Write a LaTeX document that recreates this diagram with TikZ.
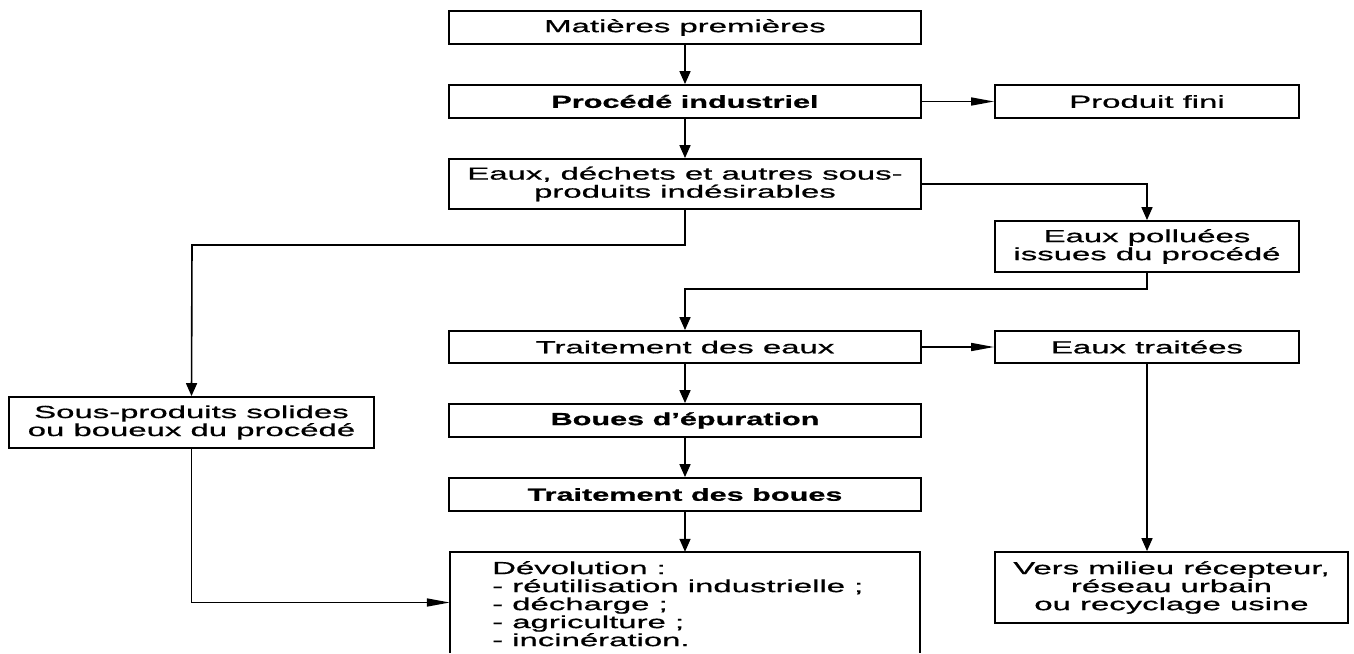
\documentclass[tikz,border=0pt]{standalone}
\usepackage{fontspec}
\setmainfont{Liberation Sans}[FakeStretch=1.88, FakeBold=0.8]
\newfontfamily\stretchbold{Liberation Sans}[FakeStretch=1.75, FakeBold=0.8]
\usetikzlibrary{arrows.meta}
\begin{document}
\begin{tikzpicture}[x=1pt,y=-1pt,
  box/.style={draw, line width=1.8pt, inner sep=0pt, align=center,
    font=\fontsize{17.5}{18}\selectfont},
  boldbox/.style={box, font=\fontsize{17.5}{18}\selectfont\stretchbold\bfseries},
  conn/.style={line width=1.6pt},
  varrow/.style={conn, -{Triangle[length=13pt,width=11pt]}},
  harrow/.style={conn, -{Triangle[length=23pt,width=8pt]}}]
\useasboundingbox (0,0) rectangle (1354,653);

\node[box, minimum width=472pt, minimum height=33pt] (mp) at (685,27.5) {Matières premières};
\node[boldbox, minimum width=472pt, minimum height=33pt] (pi) at (685,101.5) {Procédé industriel};
\node[box, minimum width=304pt, minimum height=33pt] (pf) at (1147,101.5) {Produit fini};
\node[box, minimum width=472pt, minimum height=50pt] (ed) at (685,184) {Eaux, déchets et autres sous-\\produits indésirables};
\node[box, minimum width=304pt, minimum height=51pt] (ep) at (1147,246.5) {Eaux polluées\\issues du procédé};
\node[box, minimum width=472pt, minimum height=32pt] (te) at (685,347) {Traitement des eaux};
\node[box, minimum width=304pt, minimum height=32pt] (et) at (1147,347) {Eaux traitées};
\node[box, minimum width=365pt, minimum height=51pt] (sp) at (191.5,422.5) {Sous-produits solides\\ou boueux du procédé};
\node[boldbox, minimum width=472pt, minimum height=33pt] (be) at (685,420.5) {Boues d’épuration};
\node[boldbox, minimum width=472pt, minimum height=33pt] (tb) at (685,494.5) {Traitement des boues};
\node[box, minimum width=353pt, minimum height=71pt] (vm) at (1171.5,587.5) {Vers milieu récepteur,\\réseau urbain\\ou recyclage usine};
\node[inner sep=0pt, minimum width=470pt, minimum height=101pt] (dv) at (685,602.5) {};
\draw[line width=1.8pt] (dv.south west) |- (dv.north east) -- (dv.south east);
\node[anchor=north west, inner sep=0pt, align=left, font=\fontsize{17.5}{18}\selectfont] (dvt) at (492,561) {Dévolution :\\- réutilisation industrielle ;\\- décharge ;\\- agriculture ;\\- incinération.};

\coordinate (j1) at (192,245);
\coordinate (j2) at (685,289);

\draw[varrow] (mp.south) -- (pi.north);
\draw[harrow] (pi.east) -- (pf.west);
\draw[varrow] (pi.south) -- (ed.north);
\draw[varrow] (ed.east) -| (ep.north);
\draw[varrow] (ed.south) |- (j1) -- (sp.north);
\draw[varrow] (ep.south) |- (j2) -- (te.north);
\draw[harrow] (te.east) -- (et.west);
\draw[varrow] (te.south) -- (be.north);
\draw[varrow] (be.south) -- (tb.north);
\draw[varrow] (tb.south) -- (dv.north);
\draw[varrow] (et.south) -- (et.south |- vm.north);
\draw[harrow] (sp.south) |- (dv.west);
\end{tikzpicture}
\end{document}
